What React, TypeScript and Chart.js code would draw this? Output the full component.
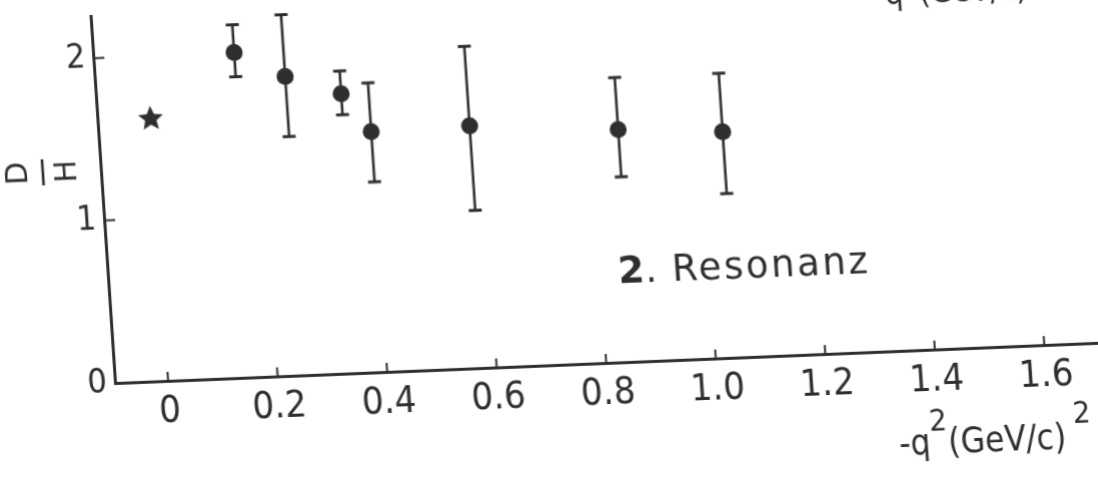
import React, { useEffect, useRef } from "react";
import { Chart, registerables } from "chart.js";

Chart.register(...registerables);

// -q^2 (GeV/c)^2 values and D/H ratios
const Q2 = [0.16, 0.25, 0.35, 0.4, 0.58, 0.85, 1.04];
const RATIO = [2.0, 1.84, 1.72, 1.48, 1.49, 1.43, 1.39];
const RATIO_HI = [2.17, 2.22, 1.86, 1.78, 1.98, 1.75, 1.75];
const RATIO_LO = [1.85, 1.47, 1.59, 1.17, 0.97, 1.14, 1.01];
// photoproduction point (q^2 = 0), drawn as a star
const PHOTON_Q2 = [0.0];
const PHOTON_RATIO = [1.62];

const X_TICKS = [0, 0.2, 0.4, 0.6, 0.8, 1.0, 1.2, 1.4, 1.6];
const X_TICK_LABELS = ["0", "0.2", "0.4", "0.6", "0.8", "1.0", "1.2", "1.4", "1.6"];
const Y_TICKS = [0, 1, 2];
const Y_TICK_LABELS = ["0", "1", "2"];

const X_TITLE = ["-q", "2", "(GeV/c)", "2"];
const Y_TITLE = ["D", "H"];
const ANNOTATION = ["2", ".", "Resonanz"];

const INK = "#2e2e2e";
const COND = '"DejaVu Sans Condensed", "Liberation Sans Narrow", sans-serif';
const SANS = '"DejaVu Sans", "Noto Sans", sans-serif';

function makeStar(): HTMLCanvasElement {
  const c = document.createElement("canvas");
  c.width = 28;
  c.height = 30;
  const g = c.getContext("2d")!;
  g.fillStyle = INK;
  g.beginPath();
  const cx = 14, cy = 16, ro = 13, ri = 6;
  for (let i = 0; i < 10; i++) {
    const a = -Math.PI / 2 + (i * Math.PI) / 5;
    const r = i % 2 === 0 ? ro : ri;
    const x = cx + r * Math.cos(a);
    const y = cy + r * Math.sin(a);
    if (i === 0) g.moveTo(x, y);
    else g.lineTo(x, y);
  }
  g.closePath();
  g.fill();
  return c;
}

const decor = {
  id: "decor",
  beforeDatasetsDraw(chart: any) {
    const { ctx, scales } = chart;
    const xs = scales.x, ys = scales.y;
    ctx.save();
    ctx.strokeStyle = INK;
    ctx.lineCap = "butt";
    for (let i = 0; i < Q2.length; i++) {
      const px = xs.getPixelForValue(Q2[i]);
      const top = ys.getPixelForValue(RATIO_HI[i]);
      const bot = ys.getPixelForValue(RATIO_LO[i]);
      ctx.lineWidth = 2.6;
      ctx.beginPath();
      ctx.moveTo(px, top);
      ctx.lineTo(px, bot);
      ctx.stroke();
      ctx.lineWidth = 3;
      ctx.beginPath();
      ctx.moveTo(px - 6.5, top);
      ctx.lineTo(px + 6.5, top);
      ctx.moveTo(px - 6.5, bot);
      ctx.lineTo(px + 6.5, bot);
      ctx.stroke();
    }
    ctx.restore();
  },
  afterDraw(chart: any) {
    const { ctx, scales, chartArea } = chart;
    const xs = scales.x, ys = scales.y;
    ctx.save();
    ctx.strokeStyle = INK;
    ctx.fillStyle = INK;
    ctx.lineWidth = 2;
    // inward tick marks
    ctx.beginPath();
    for (const v of X_TICKS) {
      const px = xs.getPixelForValue(v);
      ctx.moveTo(px, chartArea.bottom);
      ctx.lineTo(px, chartArea.bottom - 9);
    }
    for (const v of Y_TICKS) {
      if (v === 0) continue;
      const py = ys.getPixelForValue(v);
      ctx.moveTo(chartArea.left, py);
      ctx.lineTo(chartArea.left + 11, py);
    }
    ctx.stroke();

    // y title: fraction D over H, rotated
    ctx.save();
    ctx.translate(57, 170);
    ctx.rotate(-Math.PI / 2);
    ctx.font = `30px ${SANS}`;
    ctx.textAlign = "center";
    ctx.textBaseline = "middle";
    ctx.fillText(Y_TITLE[0], 0, -24);
    ctx.fillText(Y_TITLE[1], 0, 25);
    ctx.lineWidth = 2.6;
    ctx.beginPath();
    ctx.moveTo(-13, 0);
    ctx.lineTo(13, 0);
    ctx.stroke();
    ctx.restore();

    // x title with superscripts
    const drawTitle = (x0: number, y0: number, big: number, small: number) => {
      ctx.textAlign = "left";
      ctx.textBaseline = "alphabetic";
      let x = x0;
      ctx.font = `${big}px ${COND}`;
      ctx.fillText(X_TITLE[0], x, y0);
      x += ctx.measureText(X_TITLE[0]).width;
      ctx.font = `${small}px ${COND}`;
      ctx.fillText(X_TITLE[1], x, y0 - 23);
      x += ctx.measureText(X_TITLE[1]).width;
      ctx.font = `${big}px ${COND}`;
      ctx.fillText(X_TITLE[2], x, y0);
      x += ctx.measureText(X_TITLE[2]).width + 8;
      ctx.font = `${small}px ${COND}`;
      ctx.fillText(X_TITLE[3], x, y0 - 25);
    };
    drawTitle(893, 487, 35, 31);
    // cut-off title of the panel above
    drawTitle(898, 37, 32, 28);

    // annotation "2. Resonanz"
    ctx.textBaseline = "alphabetic";
    ctx.textAlign = "left";
    ctx.font = `bold 38px ${SANS}`;
    ctx.fillText(ANNOTATION[0], 624, 304);
    ctx.font = `37px ${SANS}`;
    ctx.fillText(ANNOTATION[1], 651, 304);
    (ctx as any).letterSpacing = "0px";
    const w = ctx.measureText(ANNOTATION[2]).width;
    const sp = Math.max(0, (197 - w) / 7.5);
    (ctx as any).letterSpacing = `${sp}px`;
    ctx.fillText(ANNOTATION[2], 678, 304);
    (ctx as any).letterSpacing = "0px";
    ctx.restore();
  },
};

export default function App() {
  const ref = useRef<HTMLCanvasElement | null>(null);

  useEffect(() => {
    document.body.style.margin = "0";
    document.body.style.background = "#ffffff";
    const canvas = ref.current!;
    const star = makeStar();
    const chart = new Chart(canvas, {
      type: "scatter",
      data: {
        datasets: [
          {
            data: Q2.map((x, i) => ({ x, y: RATIO[i] })),
            pointRadius: 8.5,
            pointHoverRadius: 8.5,
            pointBackgroundColor: INK,
            pointBorderWidth: 0,
            showLine: false,
          },
          {
            data: PHOTON_Q2.map((x, i) => ({ x, y: PHOTON_RATIO[i] })),
            pointStyle: star as any,
            pointRadius: 13,
            showLine: false,
          },
        ],
      },
      options: {
        animation: false,
        responsive: false,
        devicePixelRatio: 1,
        events: [],
        layout: { padding: { left: 0, top: 16, right: 90, bottom: 0 } },
        plugins: { legend: { display: false }, tooltip: { enabled: false } },
        scales: {
          x: {
            type: "linear",
            min: -0.097,
            max: 1.72,
            afterBuildTicks: (s: any) => {
              s.ticks = X_TICKS.map((v) => ({ value: v }));
            },
            afterFit: (s: any) => {
              s.height = 157;
              s.paddingLeft = 0;
              s.paddingRight = 0;
            },
            ticks: {
              autoSkip: false,
              maxRotation: 0,
              minRotation: 0,
              padding: 8,
              color: INK,
              font: { family: COND, size: 38 },
              callback: (_v: any, i: number) => X_TICK_LABELS[i],
            },
            grid: { display: true, drawOnChartArea: false, drawTicks: false },
            border: { display: true, color: INK, width: 3 },
          },
          y: {
            type: "linear",
            min: 0,
            max: 2.26,
            afterBuildTicks: (s: any) => {
              s.ticks = Y_TICKS.map((v) => ({ value: v }));
            },
            afterFit: (s: any) => {
              s.width = 115;
              s.paddingTop = 0;
              s.paddingBottom = 0;
            },
            ticks: {
              autoSkip: false,
              padding: 8,
              color: INK,
              font: { family: COND, size: 34 },
              callback: (_v: any, i: number) => Y_TICK_LABELS[i],
            },
            grid: { display: true, drawOnChartArea: false, drawTicks: false },
            border: { display: true, color: INK, width: 3 },
          },
        },
      },
      plugins: [decor],
    } as any);
    return () => chart.destroy();
  }, []);

  return (
    <div
      style={{
        position: "fixed",
        left: 0,
        top: 0,
        width: 1098,
        height: 478,
        overflow: "hidden",
        background: "#ffffff",
      }}
    >
      <canvas
        ref={ref}
        width={1200}
        height={540}
        style={{
          position: "absolute",
          left: 0,
          top: 0,
          width: 1200,
          height: 540,
          transformOrigin: "115px 383px",
          transform: "matrix(1, -0.0409, 0.0666, 1, 0, 0)",
        }}
      />
    </div>
  );
}
